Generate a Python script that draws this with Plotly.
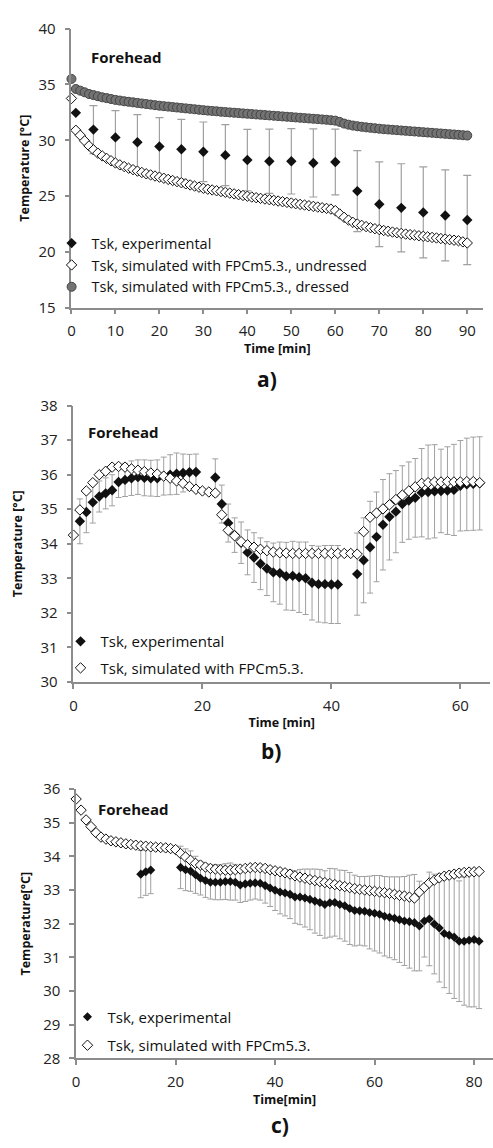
import plotly.graph_objects as go

# ---------------- Panel a data ----------------
a_time_min = list(range(0, 91))
a_dressed = [35.5, 34.6, 34.45, 34.3, 34.15, 34.05, 33.95, 33.85, 33.78, 33.7,
             33.62, 33.56, 33.5, 33.45, 33.4, 33.35, 33.3, 33.25, 33.2, 33.15,
             33.1, 33.06, 33.02, 32.98, 32.94, 32.9, 32.86, 32.82, 32.78, 32.74,
             32.7, 32.66, 32.63, 32.6, 32.56, 32.53, 32.5, 32.47, 32.44, 32.41,
             32.38, 32.35, 32.32, 32.29, 32.26, 32.23, 32.2, 32.17, 32.14, 32.11,
             32.08, 32.05, 32.02, 31.99, 31.96, 31.93, 31.9, 31.87, 31.84, 31.8,
             31.76, 31.65, 31.5, 31.4, 31.32, 31.26, 31.21, 31.16, 31.12, 31.08,
             31.04, 31.0, 30.97, 30.94, 30.91, 30.88, 30.85, 30.82, 30.79, 30.76,
             30.73, 30.7, 30.67, 30.64, 30.61, 30.58, 30.55, 30.52, 30.49, 30.46,
             30.43]
a_undressed = [33.75, 30.9, 30.45, 29.95, 29.5, 29.15, 28.85, 28.6, 28.38, 28.17,
               27.97, 27.8, 27.65, 27.5, 27.37, 27.24, 27.12, 27.0, 26.9, 26.8,
               26.7, 26.6, 26.5, 26.4, 26.3, 26.2, 26.1, 26.0, 25.9, 25.8,
               25.7, 25.62, 25.55, 25.48, 25.41, 25.34, 25.27, 25.2, 25.13, 25.06,
               24.99, 24.92, 24.86, 24.8, 24.74, 24.68, 24.62, 24.56, 24.5, 24.44,
               24.38, 24.32, 24.26, 24.2, 24.14, 24.08, 24.02, 23.96, 23.9, 23.84,
               23.7, 23.4, 23.1, 22.85, 22.65, 22.5, 22.38, 22.27, 22.17, 22.08,
               22.0, 21.92, 21.85, 21.78, 21.72, 21.66, 21.6, 21.55, 21.5, 21.45,
               21.4, 21.35, 21.3, 21.25, 21.2, 21.15, 21.1, 21.05, 21.0, 20.9,
               20.8]
a_exp_time = [1, 5, 10, 15, 20, 25, 30, 35, 40, 45, 50, 55, 60, 65, 70, 75, 80, 85, 90]
a_exp = [32.46, 30.96, 30.26, 29.82, 29.44, 29.2, 28.97, 28.67, 28.23, 28.12,
         28.12, 27.97, 28.06, 25.45, 24.27, 23.95, 23.54, 23.27, 22.86]
a_exp_sd = [0.0, 2.15, 2.4, 2.49, 2.6, 2.67, 2.67, 2.73, 2.75, 2.88,
            2.93, 3.05, 2.94, 3.63, 3.79, 3.95, 4.08, 4.08, 3.99]

# ---------------- Panel b data ----------------
b_sim_time = list(range(0, 64))
b_sim = [34.25, 34.98, 35.53, 35.77, 36.0, 36.1, 36.22, 36.24, 36.22, 36.17,
         36.13, 36.09, 36.05, 36.02, 35.96, 35.9, 35.82, 35.75, 35.66, 35.58,
         35.53, 35.5, 35.47, 34.84, 34.39, 34.23, 34.06, 33.97, 33.9, 33.84,
         33.8, 33.76, 33.74, 33.73, 33.72, 33.72, 33.72, 33.72, 33.72, 33.72,
         33.72, 33.72, 33.72, 33.72, 33.7, 34.35, 34.77, 34.89, 35.01, 35.13,
         35.28, 35.41, 35.53, 35.65, 35.75, 35.77, 35.79, 35.79, 35.8, 35.79,
         35.79, 35.8, 35.8, 35.77]
b_exp_time = ([1, 2, 3, 4, 5, 6, 7, 8, 9, 10, 11, 12, 13, 14, 15, 16, 17, 18, 19]
              + [None]
              + [22, 23, 24, 25, 26, 27, 28, 29, 30, 31, 32, 33, 34, 35, 36, 37, 38, 39, 40, 41]
              + [None]
              + [44, 45, 46, 47, 48, 49, 50, 51, 52, 53, 54, 55, 56, 57, 58, 59, 60, 61, 62, 63])
b_exp = ([34.65, 34.92, 35.2, 35.37, 35.46, 35.55, 35.79, 35.85, 35.9, 35.93,
          35.91, 35.9, 35.9, 35.96, 36.0, 36.03, 36.05, 36.07, 36.08]
         + [None]
         + [35.92, 35.15, 34.6, 34.25, 34.03, 33.75, 33.6, 33.42, 33.28, 33.17,
            33.15, 33.06, 33.07, 33.03, 33.0, 32.87, 32.83, 32.83, 32.82, 32.82]
         + [None]
         + [33.12, 33.52, 33.9, 34.2, 34.55, 34.78, 34.93, 35.15, 35.25, 35.33,
            35.48, 35.5, 35.52, 35.53, 35.54, 35.56, 35.68, 35.72, 35.74, 35.75])
b_exp_sd = ([0.65, 0.6, 0.6, 0.45, 0.45, 0.45, 0.45, 0.48, 0.5, 0.5,
             0.52, 0.52, 0.53, 0.55, 0.58, 0.6, 0.55, 0.52, 0.52]
            + [None]
            + [0.54, 0.55, 0.55, 0.5, 0.6, 0.65, 0.72, 0.75, 0.78, 0.85,
               0.9, 0.98, 1.0, 1.02, 1.05, 1.08, 1.1, 1.12, 1.13, 1.13]
            + [None]
            + [1.19, 1.23, 1.33, 1.3, 1.31, 1.25, 1.19, 1.11, 1.12, 1.14,
               1.28, 1.36, 1.35, 1.21, 1.27, 1.32, 1.31, 1.34, 1.35, 1.35])

# ---------------- Panel c data ----------------
c_sim_time = list(range(0, 82))
c_sim = [35.7, 35.37, 35.08, 34.88, 34.7, 34.57, 34.51, 34.46, 34.43, 34.4,
         34.37, 34.35, 34.33, 34.31, 34.3, 34.28, 34.27, 34.26, 34.25, 34.23,
         34.2, 34.08, 33.98, 33.88, 33.79, 33.74, 33.68, 33.64, 33.62, 33.6,
         33.59, 33.59, 33.6, 33.62, 33.64, 33.66, 33.67, 33.66, 33.64, 33.6,
         33.57, 33.54, 33.51, 33.47, 33.42, 33.38, 33.35, 33.31, 33.28, 33.25,
         33.22, 33.19, 33.16, 33.13, 33.1, 33.07, 33.04, 33.02, 33.0, 32.98,
         32.96, 32.94, 32.92, 32.9, 32.87, 32.84, 32.82, 32.79, 32.76, 32.94,
         33.08, 33.21, 33.29, 33.36, 33.41, 33.44, 33.47, 33.5, 33.52, 33.53,
         33.54, 33.55]
c_exp_time = ([13, 14, 15] + [None]
              + list(range(21, 82)))
c_exp = ([33.47, 33.54, 33.59] + [None]
         + [33.67, 33.6, 33.56, 33.45, 33.35, 33.28, 33.23, 33.23, 33.23, 33.25,
            33.25, 33.23, 33.15, 33.18, 33.2, 33.21, 33.2, 33.13, 33.06, 32.99,
            32.94, 32.91, 32.87, 32.79, 32.79, 32.76, 32.72, 32.67, 32.63, 32.57,
            32.62, 32.63, 32.57, 32.53, 32.45, 32.39, 32.38, 32.37, 32.33, 32.31,
            32.28, 32.22, 32.19, 32.16, 32.12, 32.08, 32.06, 32.03, 31.93, 32.08,
            32.14, 31.99, 31.87, 31.71, 31.66, 31.6, 31.48, 31.48, 31.51, 31.53,
            31.48])
c_exp_sd = ([0.7, 0.7, 0.7] + [None]
            + [0.63, 0.62, 0.6, 0.55, 0.5, 0.5, 0.5, 0.52, 0.52, 0.53,
               0.55, 0.53, 0.52, 0.52, 0.5, 0.48, 0.5, 0.52, 0.55, 0.6,
               0.65, 0.68, 0.72, 0.78, 0.82, 0.86, 0.9, 0.95, 0.98, 1.0,
               1.02, 1.0, 1.02, 1.05, 1.07, 1.05, 1.02, 1.03, 1.08, 1.12,
               1.15, 1.18, 1.2, 1.23, 1.27, 1.32, 1.38, 1.43, 1.33, 1.07,
               1.39, 1.48, 1.6, 1.61, 1.73, 1.82, 1.79, 1.9, 1.98, 2.0,
               2.0])

# ---------------- Labels ----------------
name_exp = "Tsk, experimental"
name_undr = "Tsk, simulated with FPCm5.3., undressed"
name_dr = "Tsk, simulated with FPCm5.3., dressed"
name_sim = "Tsk, simulated with FPCm5.3."
site = "Forehead"

FONT = "Open Sans"
AXC = "#8c8c8c"
ERRC = "#a0a0a0"
W, H = 493, 1148


def px_x(p):
    return p / W


def px_y(p):
    return 1 - p / H


fig = go.Figure()

# Panel a
fig.add_trace(go.Scatter(
    x=a_exp_time, y=a_exp, mode="markers", name=name_exp, legend="legend",
    marker=dict(symbol="diamond", size=8, color="#111111", line=dict(width=0)),
    error_y=dict(type="data", array=a_exp_sd, visible=True, color=ERRC, thickness=1.2, width=4),
    xaxis="x", yaxis="y", cliponaxis=False))
fig.add_trace(go.Scatter(
    x=a_time_min, y=a_undressed, mode="markers", name=name_undr, legend="legend",
    marker=dict(symbol="diamond", size=8, color="white", line=dict(width=1, color="#111111")),
    xaxis="x", yaxis="y", cliponaxis=False))
fig.add_trace(go.Scatter(
    x=a_time_min, y=a_dressed, mode="markers", name=name_dr, legend="legend",
    marker=dict(symbol="circle", size=9, color="#737373", line=dict(width=1, color="#444444")),
    xaxis="x", yaxis="y", cliponaxis=False))

# Panel b
fig.add_trace(go.Scatter(
    x=b_exp_time, y=b_exp, mode="markers", name=name_exp, legend="legend2",
    legendgroup="b1",
    marker=dict(symbol="diamond", size=8, color="#111111", line=dict(width=0)),
    error_y=dict(type="data", array=b_exp_sd, visible=True, color=ERRC, thickness=1, width=3),
    xaxis="x2", yaxis="y2", cliponaxis=False))
fig.add_trace(go.Scatter(
    x=b_sim_time, y=b_sim, mode="markers", name=name_sim, legend="legend2",
    legendgroup="b2",
    marker=dict(symbol="diamond", size=8, color="white", line=dict(width=1, color="#111111")),
    xaxis="x2", yaxis="y2", cliponaxis=False))

# Panel c
fig.add_trace(go.Scatter(
    x=c_exp_time, y=c_exp, mode="markers", name=name_exp, legend="legend3",
    legendgroup="c1",
    marker=dict(symbol="diamond", size=7, color="#111111", line=dict(width=0)),
    error_y=dict(type="data", array=c_exp_sd, visible=True, color=ERRC, thickness=1, width=3),
    xaxis="x3", yaxis="y3", cliponaxis=False))
fig.add_trace(go.Scatter(
    x=c_sim_time, y=c_sim, mode="markers", name=name_sim, legend="legend3",
    legendgroup="c2",
    marker=dict(symbol="diamond", size=8, color="white", line=dict(width=1, color="#111111")),
    xaxis="x3", yaxis="y3", cliponaxis=False))

axis_common = dict(showgrid=False, zeroline=False, showline=True, linecolor=AXC, linewidth=1.5,
                   ticks="outside", tickcolor=AXC, ticklen=5, tickwidth=1.5,
                   tickfont=dict(family=FONT, size=15, color="#222222"))
title_font = dict(family=FONT, size=12.5, color="#111111", weight="bold")

fig.update_layout(
    width=W, height=H, margin=dict(l=0, r=0, t=0, b=0),
    paper_bgcolor="white", plot_bgcolor="white",
    font=dict(family=FONT, color="#111111"),
    xaxis=dict(domain=[px_x(68), px_x(483)], range=[0, 93.6], tick0=0, dtick=10,
               anchor="y", ticklabelstandoff=4,
               title=dict(text="Time [min]", font=title_font, standoff=5),
               **axis_common),
    yaxis=dict(domain=[px_y(302), px_y(18)], range=[15, 40], tick0=15, dtick=5,
               anchor="x", ticklabelstandoff=6,
               title=dict(text="Temperature [°C]", font=title_font, standoff=6),
               **axis_common),
    xaxis2=dict(domain=[px_x(70), px_x(490)], range=[0, 64.6], tick0=0, dtick=20,
                anchor="y2", ticklabelstandoff=4,
                title=dict(text="Time [min]", font=title_font, standoff=5),
                **axis_common),
    yaxis2=dict(domain=[px_y(682.7), px_y(401.7)], range=[30, 38], tick0=30, dtick=1,
                anchor="x2", ticklabelstandoff=6,
                title=dict(text="Temperature [°C]", font=title_font, standoff=15),
                **axis_common),
    xaxis3=dict(domain=[px_x(72.7), 1.0], range=[0, 83.8], tick0=0, dtick=20,
                anchor="y3", ticklabelstandoff=4,
                title=dict(text="Time[min]", font=title_font, standoff=5),
                **axis_common),
    yaxis3=dict(domain=[px_y(1066), px_y(791.7)], range=[28, 36], tick0=28, dtick=1,
                anchor="x3", ticklabelstandoff=6,
                title=dict(text="Temperature[°C]", font=title_font, standoff=10),
                **axis_common),
    legend=dict(x=px_x(48), y=px_y(220), xanchor="left", yanchor="top",
                bgcolor="rgba(0,0,0,0)", font=dict(family=FONT, size=14.5, color="#111111"),
                itemwidth=30, tracegroupgap=0),
    legend2=dict(x=px_x(57), y=px_y(625), xanchor="left", yanchor="top",
                 bgcolor="rgba(0,0,0,0)", font=dict(family=FONT, size=15, color="#111111"),
                 itemwidth=30, tracegroupgap=4),
    legend3=dict(x=px_x(64), y=px_y(1007), xanchor="left", yanchor="top",
                 bgcolor="rgba(0,0,0,0)", font=dict(family=FONT, size=15, color="#111111"),
                 itemwidth=30, tracegroupgap=6),
    showlegend=True,
)

ann_font = dict(family=FONT, size=15, color="#111111", weight="bold")
label_font = dict(family=FONT, size=21, color="#111111", weight="bold")
fig.add_annotation(text=site, x=px_x(86), y=px_y(47), xref="paper", yref="paper",
                   xanchor="left", yanchor="middle", showarrow=False, font=ann_font)
fig.add_annotation(text=site, x=px_x(83), y=px_y(428), xref="paper", yref="paper",
                   xanchor="left", yanchor="middle", showarrow=False, font=ann_font)
fig.add_annotation(text=site, x=px_x(93), y=px_y(812), xref="paper", yref="paper",
                   xanchor="left", yanchor="middle", showarrow=False, font=ann_font)
fig.add_annotation(text="a)", x=px_x(265), y=px_y(375), xref="paper", yref="paper",
                   xanchor="center", yanchor="middle", showarrow=False, font=label_font)
fig.add_annotation(text="b)", x=px_x(269), y=px_y(753), xref="paper", yref="paper",
                   xanchor="center", yanchor="middle", showarrow=False, font=label_font)
fig.add_annotation(text="c)", x=px_x(278), y=px_y(1134), xref="paper", yref="paper",
                   xanchor="center", yanchor="middle", showarrow=False, font=label_font)

fig.write_html("out.html")
